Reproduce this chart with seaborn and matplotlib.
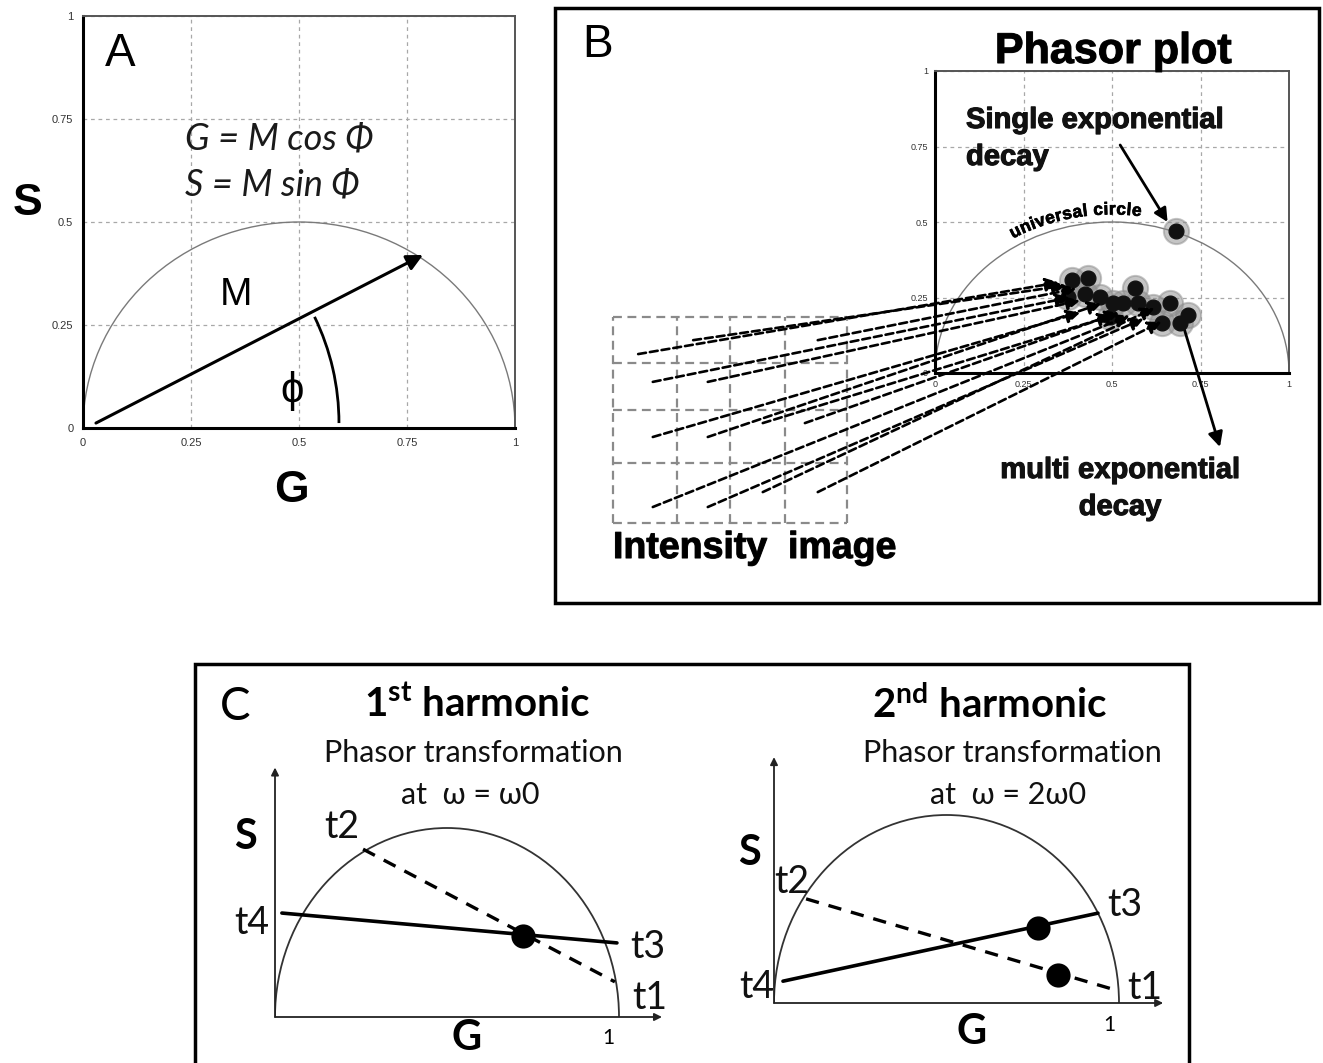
import numpy as np
import matplotlib
matplotlib.use("Agg")
import matplotlib.pyplot as plt
import matplotlib.patheffects as pe
import seaborn as sns
from matplotlib.patches import Arc, Rectangle, ConnectionPatch

sns.set_style("white")
plt.rcParams["font.family"] = ["Liberation Sans", "DejaVu Sans"]
plt.rcParams["text.color"] = "black"
plt.rcParams["mathtext.fontset"] = "custom"
plt.rcParams["mathtext.rm"] = "Lato"
plt.rcParams["mathtext.bf"] = "Lato:bold"
plt.rcParams["mathtext.it"] = "Lato:italic"

W, H = 1323, 1063
CAL = ["Lato", "DejaVu Sans"]
HEAVY = [pe.withStroke(linewidth=0.8, foreground="#111111")]

# ---- data ----
ticks = [0, 0.25, 0.5, 0.75, 1]
tick_labels = ["0", "0.25", "0.5", "0.75", "1"]
minor_ticks = [i / 16 for i in range(17)]

# panel A: phasor vector
vec_start = (0.03, 0.012)
vec_tip = (0.787, 0.42)

# panel B: phasor points
single_g = [0.68]
single_s = [0.47]
multi_g = [0.387, 0.432, 0.376, 0.424, 0.466, 0.503, 0.531, 0.573, 0.565,
           0.616, 0.664, 0.641, 0.692, 0.715, 0.494]
multi_s = [0.308, 0.315, 0.252, 0.262, 0.252, 0.232, 0.232, 0.232, 0.281,
           0.219, 0.232, 0.166, 0.166, 0.192, 0.185]

# intensity image cells (grid units) -> arrow tips in phasor plot
col_edges = [0, 1.09, 2.0, 2.94, 4]
row_edges = [0, 1.165, 2.194, 3.107, 4]
pix_x = [0.43, 1.37, 3.50, 0.68, 1.62, 0.68, 1.62, 2.56, 3.28, 0.68, 1.62, 2.56, 3.50]
pix_y = [3.28, 3.55, 3.55, 2.74, 2.74, 1.67, 1.67, 1.94, 1.94, 0.31, 0.31, 0.60, 0.60]
tip_g = [0.35, 0.37, 0.40, 0.38, 0.41, 0.41, 0.47, 0.50, 0.52, 0.55, 0.59, 0.62, 0.64]
tip_s = [0.30, 0.29, 0.28, 0.25, 0.24, 0.20, 0.23, 0.19, 0.20, 0.19, 0.18, 0.215, 0.17]

# panel C: 1st harmonic
h1_dash_g = [0.256, 0.988]
h1_dash_s = [0.444, 0.093]
h1_solid_g = [0.020, 0.994]
h1_solid_s = [0.275, 0.196]
h1_dot_g = [0.721]
h1_dot_s = [0.214]
# panel C: 2nd harmonic
h2_dash_g = [0.093, 0.988]
h2_dash_s = [0.277, 0.035]
h2_solid_g = [0.026, 0.939]
h2_solid_s = [0.058, 0.239]
h2_dot_g = [0.765, 0.823]
h2_dot_s = [0.199, 0.074]


def fx(x):
    return x / W


def fy(y):
    return 1 - y / H


def px_axes(l, t, r, b):
    return fig.add_axes([l / W, 1 - b / H, (r - l) / W, (b - t) / H])


def style_phasor(ax, fs):
    ax.set_xlim(0, 1)
    ax.set_ylim(0, 1)
    ax.set_xticks(ticks)
    ax.set_xticklabels(tick_labels)
    ax.set_yticks(ticks)
    ax.set_yticklabels(tick_labels)
    ax.set_xticks(minor_ticks, minor=True)
    ax.set_axisbelow(True)
    ax.grid(True, which="major", ls=(0, (3, 3)), color="#a8a8a8", lw=0.9)
    ax.tick_params(which="major", direction="out", length=3, width=0.8,
                   labelsize=fs, labelcolor="#333333", color="#666666", pad=4)
    ax.tick_params(which="minor", axis="x", direction="out", length=2,
                   width=0.7, color="#999999")
    for side in ["left", "bottom"]:
        ax.spines[side].set_color("black")
        ax.spines[side].set_linewidth(2.2)
    for side in ["top", "right"]:
        ax.spines[side].set_color("#555555")
        ax.spines[side].set_linewidth(1.4)
    ax.add_patch(Arc((0.5, 0), 1, 1, theta1=0, theta2=180, color="#7a7a7a", lw=1.0))


fig = plt.figure(figsize=(W / 100, H / 100), dpi=100)

# ---------------- panel A ----------------
axA = px_axes(83, 16, 515, 428)
style_phasor(axA, 8)
axA.annotate("", xy=vec_tip, xytext=vec_start,
             arrowprops=dict(arrowstyle="-|>", lw=2.2, color="black",
                             mutation_scale=24, shrinkA=0, shrinkB=0))
axA.add_patch(Arc(vec_start, 1.125, 1.18, theta1=0, theta2=27, color="black", lw=2))

fig.text(fx(120), fy(54), "A", fontsize=33, ha="center", va="center")
fig.text(fx(185), fy(139), "G = M cos Φ", fontsize=26, style="italic",
         family=CAL, ha="left", va="center", color="#1a1a1a")
fig.text(fx(185), fy(185), "S = M sin Φ", fontsize=26, style="italic",
         family=CAL, ha="left", va="center", color="#1a1a1a")
fig.text(fx(236), fy(295), "M", fontsize=28, ha="center", va="center")
fig.text(fx(292), fy(391), "ϕ", fontsize=30, ha="center", va="center")
fig.text(fx(28), fy(203), "S", fontsize=32, weight="bold", ha="center", va="center")
fig.text(fx(291), fy(491), "G", fontsize=32, weight="bold", ha="center", va="center")

# ---------------- panel B ----------------
fig.patches.append(Rectangle((fx(555), fy(603)), (1319 - 555) / W, (603 - 8) / H,
                             transform=fig.transFigure, fill=False, lw=2.5,
                             ec="black"))
fig.text(fx(598), fy(45), "B", fontsize=33, ha="center", va="center")

axB = px_axes(935, 71, 1289, 373)
style_phasor(axB, 6.5)
axB.tick_params(which="major", pad=2)

sns.scatterplot(x=multi_g + single_g, y=multi_s + single_s, s=330, color="#8c8c8c",
                alpha=0.5, edgecolor=None, legend=False, ax=axB, zorder=3)
sns.scatterplot(x=multi_g + single_g, y=multi_s + single_s, s=115, color="#111111",
                edgecolor=None, legend=False, ax=axB, zorder=4)

axImg = px_axes(613, 317, 847, 523)
axImg.set_xlim(0, 4)
axImg.set_ylim(0, 4)
axImg.axis("off")
axImg.vlines(col_edges, 0, 4, colors="#8a8a8a", linestyles=(0, (4, 2.5)), lw=1.6,
             clip_on=False)
axImg.hlines(row_edges, 0, 4, colors="#8a8a8a", linestyles=(0, (4, 2.5)), lw=1.6,
             clip_on=False)

for px_, py_, tg, ts in zip(pix_x, pix_y, tip_g, tip_s):
    con = ConnectionPatch(xyA=(px_, py_), coordsA=axImg.transData,
                          xyB=(tg, ts), coordsB=axB.transData,
                          arrowstyle="-|>", linestyle=(0, (3, 1.5)), lw=1.9,
                          color="black", mutation_scale=20, shrinkA=0, shrinkB=0,
                          zorder=5)
    fig.add_artist(con)

axB.annotate("", xy=(0.657, 0.50), xytext=(0.523, 0.755),
             arrowprops=dict(arrowstyle="-|>", lw=2, color="black",
                             mutation_scale=20, shrinkA=0, shrinkB=0))
axB.annotate("", xy=(0.805, -0.245), xytext=(0.698, 0.169), annotation_clip=False,
             arrowprops=dict(arrowstyle="-|>", lw=2, color="black",
                             mutation_scale=22, shrinkA=0, shrinkB=0))

fig.text(fx(1113), fy(52), "Phasor plot", fontsize=31, weight="bold",
         ha="center", va="center", path_effects=HEAVY)
fig.text(fx(966), fy(120), "Single exponential", fontsize=21, weight="bold",
         ha="left", va="center", color="#111111", path_effects=HEAVY)
fig.text(fx(966), fy(157), "decay", fontsize=21, weight="bold",
         ha="left", va="center", color="#111111", path_effects=HEAVY)
fig.text(fx(1120), fy(470), "multi exponential", fontsize=21, weight="bold",
         ha="center", va="center", color="#111111", path_effects=HEAVY)
fig.text(fx(1120), fy(507), "decay", fontsize=21, weight="bold",
         ha="center", va="center", color="#111111", path_effects=HEAVY)
fig.text(fx(613), fy(548), "Intensity  image", fontsize=27, weight="bold",
         ha="left", va="center", path_effects=HEAVY)

# "universal circle" written along the circle
label = "universal circle"
char_w = {"u": .61, "n": .61, "i": .28, "v": .56, "e": .56, "r": .39, "s": .56,
          "a": .56, "l": .28, " ": .28, "c": .56}
widths = np.array([char_w[c] for c in label])
centers = np.cumsum(widths) - widths / 2
angles = 122 - (122 - 81) * centers / widths.sum()
sx_px, sy_px = 354, 302
for ch, th in zip(label, np.radians(angles)):
    r = 0.54
    rot = np.degrees(np.arctan2(-np.cos(th) * sy_px, np.sin(th) * sx_px))
    axB.text(0.5 + r * np.cos(th), r * np.sin(th), ch, fontsize=12.5, weight="bold",
             ha="center", va="center", rotation=rot, rotation_mode="anchor",
             path_effects=[pe.withStroke(linewidth=0.5, foreground="black")])

# ---------------- panel C ----------------
fig.patches.append(Rectangle((fx(195), fy(1080)), (1189 - 195) / W, (1080 - 664) / H,
                             transform=fig.transFigure, fill=False, lw=2.5,
                             ec="black"))
fig.text(fx(235), fy(707), "C", fontsize=33, family=CAL, ha="center", va="center")


def harmonic_axes(l, b, sx, sy, gmax, smax):
    ax = px_axes(l, b - smax * sy, l + gmax * sx, b)
    ax.set_xlim(0, gmax)
    ax.set_ylim(0, smax)
    ax.axis("off")
    arrow = dict(arrowstyle="-|>", lw=1.3, color="#222222", mutation_scale=11,
                 shrinkA=0, shrinkB=0)
    ax.annotate("", xy=(1, 0), xytext=(0, 0), xycoords="axes fraction", arrowprops=arrow)
    ax.annotate("", xy=(0, 1), xytext=(0, 0), xycoords="axes fraction", arrowprops=arrow)
    ax.add_patch(Arc((0.5, 0), 1, 1, theta1=0, theta2=180, color="#333333", lw=1.3))
    return ax


axC1 = harmonic_axes(275, 1017, 344, 378, 1.125, 0.66)
axC1.plot(h1_dash_g, h1_dash_s, color="black", lw=2.4, ls=(0, (4, 3)))
axC1.plot(h1_solid_g, h1_solid_s, color="black", lw=2.6)
sns.scatterplot(x=h1_dot_g, y=h1_dot_s, s=260, color="black", edgecolor=None,
                legend=False, ax=axC1, zorder=4)

axC2 = harmonic_axes(774, 1003, 345, 376, 1.128, 0.654)
axC2.plot(h2_dash_g, h2_dash_s, color="black", lw=2.4, ls=(0, (4, 3)))
axC2.plot(h2_solid_g, h2_solid_s, color="black", lw=2.6)
sns.scatterplot(x=h2_dot_g, y=h2_dot_s, s=260, color="black", edgecolor=None,
                legend=False, ax=axC2, zorder=4)

tsz = 27
for ax, labels in [
    (axC1, [("t2", 0.195, 0.503), ("t4", -0.067, 0.249), ("t3", 1.084, 0.185),
            ("t1", 1.09, 0.05)]),
    (axC2, [("t2", 0.052, 0.322), ("t3", 1.017, 0.261), ("t4", -0.049, 0.043),
            ("t1", 1.075, 0.04)]),
]:
    for lab, gx, sy in labels:
        ax.text(gx, sy, lab, fontsize=tsz, family=CAL, ha="center", va="center",
                color="#111111")

axC1.text(-0.087, 0.476, "S", fontsize=30, weight="bold", family=CAL, ha="center", va="center")
axC1.text(0.558, -0.056, "G", fontsize=30, weight="bold", family=CAL, ha="center", va="center")
axC1.text(0.968, -0.056, "1", fontsize=15, family=CAL, ha="center", va="center")
axC2.text(-0.07, 0.399, "S", fontsize=30, weight="bold", family=CAL, ha="center", va="center")
axC2.text(0.574, -0.077, "G", fontsize=30, weight="bold", family=CAL, ha="center", va="center")
axC2.text(0.971, -0.058, "1", fontsize=15, family=CAL, ha="center", va="center")

fig.text(fx(477), fy(705), r"1$^{\mathbf{st}}$ harmonic", fontsize=29, weight="bold",
         family=CAL, ha="center", va="center")
fig.text(fx(473), fy(753), "Phasor transformation", fontsize=22, family=CAL,
         ha="center", va="center", color="#111111")
fig.text(fx(470), fy(795), "at  ω = ω0", fontsize=22, family=CAL,
         ha="center", va="center", color="#111111")
fig.text(fx(990), fy(705), r"2$^{\mathbf{nd}}$ harmonic", fontsize=29, weight="bold",
         family=CAL, ha="center", va="center")
fig.text(fx(1012), fy(753), "Phasor transformation", fontsize=22, family=CAL,
         ha="center", va="center", color="#111111")
fig.text(fx(1008), fy(795), "at  ω = 2ω0", fontsize=22, family=CAL,
         ha="center", va="center", color="#111111")

fig.savefig("out.png", dpi=100)
